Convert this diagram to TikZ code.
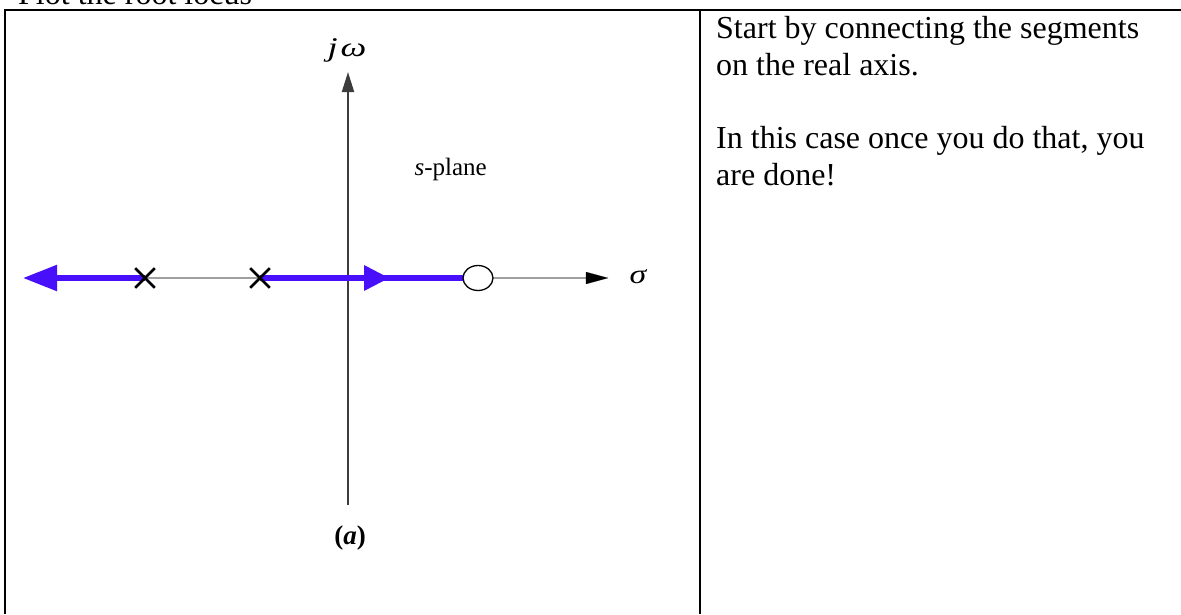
\documentclass[tikz,border=0pt]{standalone}
\usepackage{fontspec}
\usepackage{graphicx}
\setmainfont{Liberation Serif}
\usetikzlibrary{arrows.meta,shapes.misc,shapes.geometric}
\definecolor{locus}{RGB}{72,16,250}
\definecolor{axisgray}{RGB}{160,160,160}
\definecolor{darkaxis}{RGB}{60,60,60}
\tikzset{
  border/.style={line width=2.8pt,black},
  locusline/.style={line width=5.5pt,locus},
  realaxis/.style={line width=2.6pt,axisgray},
  pole/.style={cross out,draw=black,line width=2.6pt,minimum size=17pt,inner sep=0pt},
  zero/.style={ellipse,draw=black,line width=1.3pt,minimum width=30pt,minimum height=25pt,inner sep=0pt,fill=white},
  bodyline/.style={anchor=base west,inner sep=0pt,font=\fontsize{32}{37}\selectfont},
  mathlbl/.style={inner sep=0pt,font=\fontsize{27}{30}\selectfont\itshape},
}
\begin{document}
\begin{tikzpicture}[x=1pt,y=-1pt]
\useasboundingbox (0,0) rectangle (1181,614);
\begin{scope}
\clip (0,0) rectangle (1181,614);
% cut-off heading
\node[bodyline] (head) at (18,4) {Plot the root locus};
% table borders
\coordinate (tl) at (5,10);
\coordinate (tr) at (1181,10);
\coordinate (bl) at (5,614);
\coordinate (mt) at (700,10);
\coordinate (mb) at (700,614);
\draw[border] (bl) -- (tl) -- (tr);
\draw[border] (mt) -- (mb);
\end{scope}
% right cell text
\node[bodyline] (t1) at (716,38) {Start by connecting the segments};
\node[bodyline] (t2) at (716,75) {on the real axis.};
\node[bodyline] (t3) at (716,148) {In this case once you do that, you};
\node[bodyline] (t4) at (716,185) {are done!};
% axes
\coordinate (ybot) at (348,505);
\coordinate (ytop) at (348,72);
\coordinate (lend) at (23,278);
\coordinate (xend) at (608,278);
\draw[darkaxis,line width=2pt,-{Triangle[length=20pt,width=12pt]}] (ybot) -- (ytop);
\node[mathlbl] (jw) at (347,50) {\scalebox{1.35}[1]{j\kern2pt ω}};
\node[mathlbl] (sig) at (638,277) {\scalebox{1.25}[1]{σ}};
\node[anchor=base east,inner sep=0pt,font=\fontsize{25}{28}\selectfont] (splane) at (487,175) {\textit{s}-plane};
\node[inner sep=0pt,font=\fontsize{27}{30}\selectfont\bfseries] (lab) at (350,538) {(\textit{a})};
% poles and zero
\coordinate (p1c) at (145,278);
\coordinate (p2c) at (260,278);
\coordinate (zc) at (478,278);
\draw[realaxis] (p1c) -- (p2c);
\draw[realaxis] (zc) -- (590,278);
\draw[black,line width=0.1pt,fill=black] (xend) -- (586,272) -- (586,284) -- cycle;
\draw[locusline,-{Triangle[length=34pt,width=25pt]}] (p1c) -- (lend);
\draw[locusline] (p2c) -- (zc);
\coordinate (mb2) at (389,278);
\fill[locus] (mb2) -- (364,265) -- (364,291) -- cycle;
\node[zero] (z) at (zc) {};
\node[pole] (p1) at (p1c) {};
\node[pole] (p2) at (p2c) {};
\end{tikzpicture}
\end{document}
